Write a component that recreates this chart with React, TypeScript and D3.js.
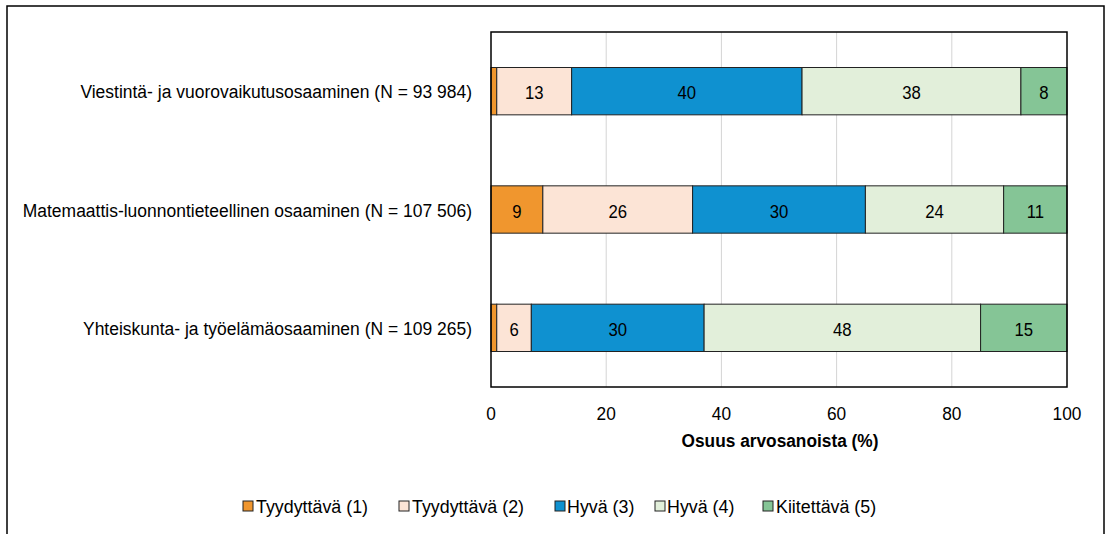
import React from "react";
import * as d3 from "d3";

const categories = [
  "Viestintä- ja vuorovaikutusosaaminen (N = 93 984)",
  "Matemaattis-luonnontieteellinen osaaminen (N = 107 506)",
  "Yhteiskunta- ja työelämäosaaminen (N = 109 265)",
];
const seriesNames = ["Tyydyttävä (1)", "Tyydyttävä (2)", "Hyvä (3)", "Hyvä (4)", "Kiitettävä (5)"];
const s1 = [1, 9, 1];
const s2 = [13, 26, 6];
const s3 = [40, 30, 30];
const s4 = [38, 24, 48];
const s5 = [8, 11, 15];
const seriesValues = [s1, s2, s3, s4, s5];
const colors = ["#F0962E", "#FCE4D6", "#0F91D0", "#E2EFDA", "#85C596"];
const xTicks = [0, 20, 40, 60, 80, 100];
const axisTitle = "Osuus arvosanoista (%)";

const W = 1108;
const H = 534;
const FONT = "'Liberation Sans', Arial, sans-serif";
const FS = 19;
const SX = 0.91;

function Txt(props: {
  x: number;
  y: number;
  anchor?: "start" | "middle" | "end";
  bold?: boolean;
  sx?: number;
  children: React.ReactNode;
}) {
  const sx = props.sx ?? SX;
  return (
    <text
      transform={`translate(${props.x},${props.y}) scale(${sx},1)`}
      textAnchor={props.anchor ?? "start"}
      fontSize={FS}
      fontWeight={props.bold ? "bold" : "normal"}
      fill="#000"
    >
      {props.children}
    </text>
  );
}

export default function App() {
  const left = 491, right = 1067, top = 32, bottom = 387;
  const x = d3.scaleLinear().domain([0, 100]).range([left, right]);
  const y = d3.scaleBand<string>().domain(categories).range([top, bottom]).paddingInner(0.6).paddingOuter(0.3);

  const rows = categories.map((c, i) => {
    let acc = 0;
    return seriesValues.map((sv, k) => {
      const v = sv[i];
      const seg = { k, v, x0: acc, x1: acc + v };
      acc += v;
      return seg;
    });
  });

  const legendItems = [
    { sq: 243, tx: 256 },
    { sq: 399, tx: 412 },
    { sq: 555, tx: 567 },
    { sq: 655, tx: 667 },
    { sq: 763, tx: 776 },
  ];
  const legendBase = 513;

  return (
    <svg width={W} height={H} style={{ position: "absolute", left: 0, top: 0 }} fontFamily={FONT}>
      <rect x={0} y={0} width={W} height={H} fill="#fff" />
      <rect x={7} y={6} width={1097} height={600} fill="none" stroke="#000" strokeWidth={1.5} />
      {xTicks.slice(1, -1).map((t) => (
        <line key={t} x1={x(t)} x2={x(t)} y1={top} y2={bottom} stroke="#d4d4d4" strokeWidth={1} />
      ))}
      {rows.map((segs, i) =>
        segs.map((s) => (
          <g key={i + "-" + s.k}>
            <rect
              x={x(s.x0)}
              y={y(categories[i])!}
              width={x(s.x1) - x(s.x0)}
              height={y.bandwidth()}
              fill={colors[s.k]}
              stroke="#222"
              strokeWidth={1}
            />
            {s.v >= 3 && (
              <Txt x={(x(s.x0) + x(s.x1)) / 2} y={y(categories[i])! + y.bandwidth() / 2 + 8} anchor="middle" sx={0.88}>
                {s.v}
              </Txt>
            )}
          </g>
        ))
      )}
      <rect x={left} y={top} width={right - left} height={bottom - top} fill="none" stroke="#000" strokeWidth={1.5} />
      {categories.map((c) => (
        <Txt key={c} x={472} y={y(c)! + y.bandwidth() / 2 + 7} anchor="end" sx={0.92}>
          {c}
        </Txt>
      ))}
      {xTicks.map((t) => (
        <Txt key={t} x={x(t)} y={420} anchor="middle">
          {t}
        </Txt>
      ))}
      <Txt x={(left + right) / 2 + 1} y={447} anchor="middle" bold>
        {axisTitle}
      </Txt>
      {seriesNames.map((n, k) => (
        <g key={n}>
          <rect x={legendItems[k].sq} y={legendBase - 12} width={10} height={10} fill={colors[k]} stroke="#222" strokeWidth={1} />
          <Txt x={legendItems[k].tx} y={legendBase} sx={0.94}>
            {n}
          </Txt>
        </g>
      ))}
    </svg>
  );
}
